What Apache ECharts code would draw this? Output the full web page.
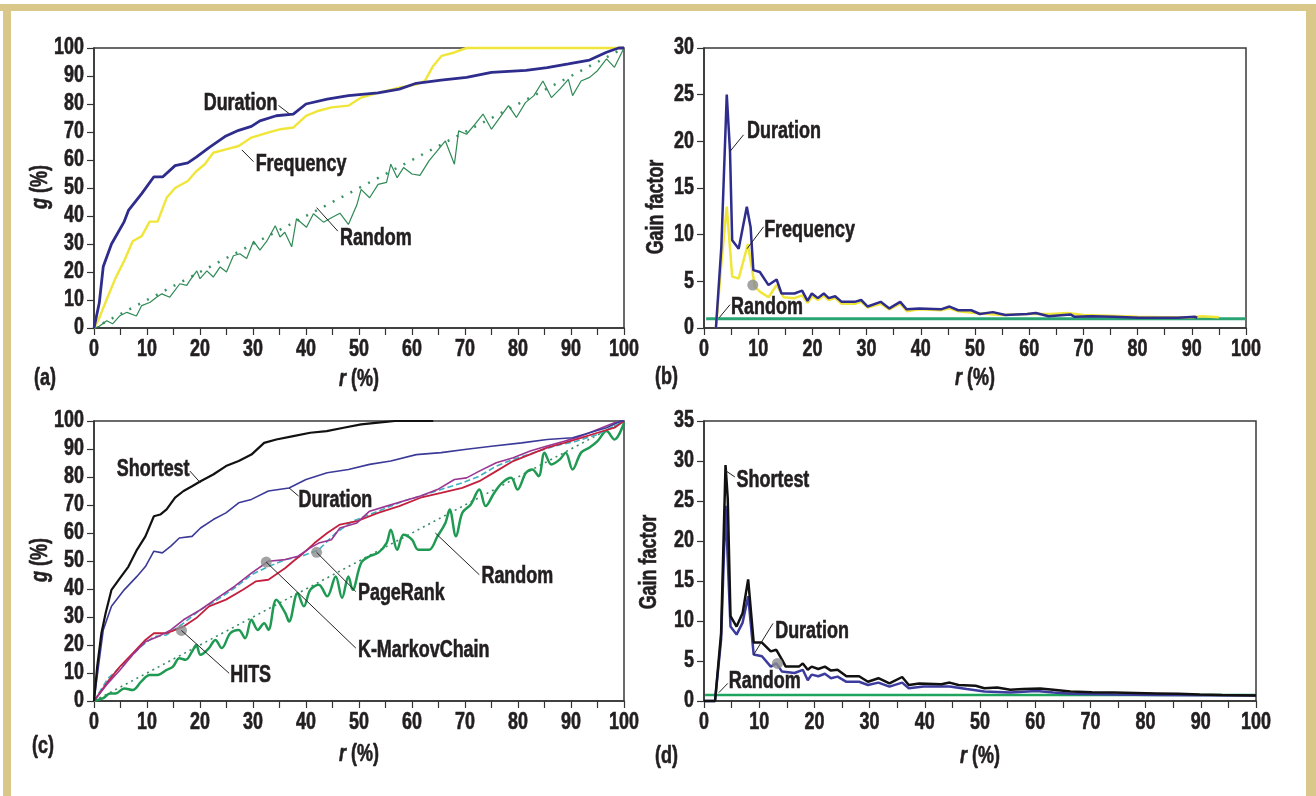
<!DOCTYPE html>
<html><head><meta charset="utf-8">
<script src="https://cdn.jsdelivr.net/npm/echarts/dist/echarts.min.js"></script>
<style>html,body{margin:0;padding:0;background:#fff}#c{width:1316px;height:796px}</style>
</head><body><div id="c"></div>
<script>
// ---------- DATA ----------
const xTicks = [0,10,20,30,40,50,60,70,80,90,100];
const gTicks = [0,10,20,30,40,50,60,70,80,90,100];
const bTicks = [0,5,10,15,20,25,30];
const dTicks = [0,5,10,15,20,25,30,35];
// (a) cumulative gain g(%) vs r(%)
const aDuration = [[0,0],[1,9],[1.75,22],[3.3,30],[5.7,38],[6.5,42],[9,48],[11.3,54],[13,54],[15.3,58],[17.7,59],[19.3,61],[21.7,64.4],[24.9,68.6],[27.3,70.6],[29.7,72],[31.3,74],[34.4,75.8],[37.6,76.4],[40,80],[44,81.7],[48,83],[53.6,84],[57.6,85.3],[60.8,87.4],[65.5,88.5],[70.3,89.5],[75,91.3],[81.5,92],[85.5,93],[89.5,94.3],[93.5,95.7],[96.7,98.5],[99,100],[100,100]];
const aFrequency = [[0,0],[1,3.6],[2.5,10.7],[4.1,18],[5.7,24],[7.3,31],[9,32.8],[10.5,38],[12,38],[13.7,46.5],[15.3,50],[17.7,52.5],[19.3,56],[20.9,58.5],[22.5,62.6],[24.9,63.8],[27.3,65],[29.7,68],[32.8,69.8],[35.2,71],[37.6,71.6],[40,75.8],[42.4,77.6],[44.8,78.8],[48,79.4],[50.4,82.3],[53.6,84],[57.6,85.8],[60.8,87],[62.4,88.2],[64,93.6],[65.6,97.2],[68,98.4],[70.3,100],[100,100]];
const aRandom = [[0,0],[1,0.6],[2.4,2.6],[3.5,1.5],[4.9,4.4],[6.2,5.6],[8,4.3],[9,8],[10.6,9.2],[11.8,11],[12.8,12.2],[14.3,11],[16.2,15.8],[17.5,15.2],[18.1,17],[19.4,20.4],[20,17.6],[21.3,20.4],[22.5,18.2],[23.8,21.8],[25,20],[26.3,25.8],[27.5,26.5],[28.8,24.8],[30.1,31],[31.3,27.8],[32.6,31],[34.2,36.5],[35.1,32.5],[36,34.2],[37.3,29],[38.2,39],[40.1,36],[41.4,40.8],[43.3,37.8],[44.8,39.4],[46.4,41],[48,37],[49.6,44],[50.4,49.5],[52,46.5],[53.6,51.3],[55.2,52],[56,58.5],[57.2,53.7],[58.4,57.3],[60,55],[61.5,54.5],[63.2,59.7],[66.3,66.8],[68,58.5],[68.8,70.4],[70.3,69.2],[71.9,72.8],[73.4,76.4],[75,71],[76.6,75.2],[78.2,79.4],[79.7,75.2],[81.4,80.5],[83,83],[84.7,88.2],[86.3,82.3],[87.9,85.3],[89.5,88.8],[90.3,83],[91.9,88.2],[93.5,89.5],[95,91.9],[96.7,96.1],[98.2,93.1],[100,100]];
const aDiagonal = [[0,0],[100,100]];
// (b) gain factor
const bDuration = [[2.2,0],[3.2,8.7],[4.2,25],[4.8,18.9],[5.2,9.4],[6.4,8.5],[7.9,13],[8.6,10.8],[9.1,6.2],[10.3,6],[11.9,4.6],[13.4,5.2],[14.3,3.7],[16.7,3.7],[18.1,4],[19.1,2.9],[19.9,3.7],[21,3.2],[22.1,3.7],[23,3.2],[24.2,3.4],[25.4,2.8],[27.8,2.8],[29,3],[30.2,2.3],[32.6,2.8],[34.2,2.1],[36.2,2.8],[37.4,2],[39.7,2.1],[43.7,2],[45.3,2.3],[46.9,1.9],[49.3,1.9],[50.9,1.5],[53.3,1.7],[55.6,1.4],[59.6,1.5],[61.2,1.6],[63.6,1.25],[67.6,1.45],[68.4,1.2],[71.5,1.25],[75.5,1.2],[80.3,1.1],[87.4,1.1],[90.6,1.2],[91,1.1]];
const bFrequency = [[2.2,0],[3.2,6.9],[4.2,13],[5.2,5.5],[6.4,5.3],[8.1,9],[9.4,4.4],[10.3,3.9],[11.9,3.3],[13.4,4.6],[14.7,3.3],[16.7,3.2],[18.1,3.5],[19.1,2.7],[20,3.4],[21,3],[22.1,3.5],[23,3],[24.2,3.2],[25.4,2.6],[27.8,2.6],[29,2.8],[30.2,2.2],[32.6,2.6],[34.2,2],[36.2,2.6],[37.4,1.8],[39.7,2],[43.7,1.9],[45.3,2.1],[46.9,1.8],[50,1.6],[55,1.4],[60,1.5],[64,1.5],[67,1.6],[70,1.4],[75,1.3],[80,1.2],[85,1.15],[90,1.15],[92,1.25],[95,1.15]];
const bRandom = [[0.4,1],[100,1]];
const bDots = [[9.0,4.6]];
// (c) cumulative gain
const cShortest = [[0,0],[0.6,12.3],[1.4,24.2],[2.2,31.4],[3.3,39.7],[4.9,43.9],[6.5,48],[8.1,54],[9.7,58.8],[11.3,66],[12.5,66.6],[13.7,68.4],[15.3,72.6],[16.9,75],[18.5,76.7],[20.1,78.5],[22.5,80.9],[24.9,83.9],[27.3,85.7],[29.7,88],[32.1,92.2],[34.4,93.4],[37.6,94.6],[40.8,95.8],[43.9,96.4],[47.1,97.6],[50.4,98.8],[53.6,99.4],[56.8,100],[64,100]];
const cDuration = [[0,0],[1,14.7],[1.75,25.4],[3.3,33.8],[5.7,39.7],[8.1,44.5],[9.7,48],[11.3,53.5],[12.9,52.9],[14.5,55.3],[16.1,58.2],[18.5,58.8],[20.1,61.8],[22.5,64.8],[24.9,67.2],[27.3,70.8],[29.7,72],[32.9,75],[36.8,76.1],[40,79.1],[44,81.5],[48,82.7],[52,84.5],[56,85.7],[60.8,88],[65.5,88.7],[70.3,89.9],[75,91],[80.7,92.2],[85.5,93.4],[90.3,94],[93.5,95.8],[96.7,97.6],[99.4,100],[100,100]];
const cHITS = [[0,0],[2.6,6.9],[4.9,12.3],[7.3,17],[9.7,21.8],[11.3,24.2],[13.7,24.2],[15.3,25.4],[16.9,26.6],[19.3,29.6],[21.7,33.8],[24.9,36.2],[28.1,39.7],[30.5,42.7],[32.9,43.3],[36.1,47.5],[37.6,49.9],[39.2,52.3],[41.6,56.4],[44,60],[46.4,63],[49.6,64.2],[53.6,67.2],[57.6,69.6],[61.6,72.6],[65.5,74.3],[69.5,76.1],[72.7,78.5],[75.9,82.1],[79.1,85.7],[82.3,88.1],[85.5,90.5],[88.7,92.2],[91.9,94],[95,95.8],[98.2,97.6],[100,100]];
const cKMarkov = [[0,0],[2.6,6.3],[4.9,11.1],[7.3,16.5],[9.7,21.2],[12.1,23],[14.5,25.4],[16.9,29],[20.1,32.6],[23.3,36.8],[26.5,40.9],[29.7,45.7],[32.9,49.9],[36.1,50.5],[38.5,51.7],[40.8,54.7],[42.4,56.4],[44.8,57.6],[46.4,61.8],[49.6,63.6],[52,67.8],[55.2,69.6],[58.4,71.4],[61.6,73.2],[64.8,75.5],[68,79.1],[70.3,79.7],[72.7,82.1],[75.9,85.1],[79.1,86.9],[82.3,89.3],[85.5,91.1],[88.7,92.8],[91.9,94.6],[95,97],[98.2,99.4],[100,100]];
const cPageRank = [[0,0],[2.6,8],[5.7,13.5],[8.9,19.5],[11.3,23],[13.7,23.6],[16.9,27.8],[20.1,32.6],[23.3,36.2],[26.5,40.3],[29.7,45.1],[32.9,48],[36.1,50.5],[39.2,51.7],[42.4,54],[45.6,60],[48.8,64.2],[52,66.6],[55.2,69],[58.4,71.4],[61.6,73.2],[66.4,76.1],[69.5,77.9],[72.7,80.3],[75.9,83.9],[79.1,86.3],[83,88.7],[87,91.1],[91,92.8],[95,95.2],[98.2,98.2],[100,100]];
const cRandom = [[0,0],[1.75,1],[3,2.7],[4.1,2.7],[5.7,4.5],[7.3,3.9],[8.9,6.9],[10.5,9.3],[12,9.3],[13.7,11.1],[14.9,12.3],[16.1,15.3],[17.3,14.7],[18.5,17.7],[19.3,20],[20.1,16.5],[21.7,18.9],[22.9,21.8],[24.1,18.9],[25.7,24.2],[27.3,25.4],[28.5,22.4],[29.7,29],[30.9,25.4],[32.1,27.8],[32.9,25.4],[34.4,36.2],[36.1,31.4],[36.8,28.4],[38.4,38.5],[39.6,33.8],[40.8,39.7],[42.4,41.5],[44,37.4],[45.6,44.5],[46.8,36.8],[48,44.5],[48.8,39.7],[50.4,49.3],[52,51.7],[53.6,52.9],[55.2,56.4],[56,61.2],[57.2,54],[58.4,59.4],[60,57.6],[61.2,54],[63.2,54],[64.8,58.8],[66.3,63.6],[67.1,68.4],[68.3,58.8],[69.5,67.2],[71.1,70.2],[72.7,75.5],[73.9,69.6],[75.5,74.3],[77,77.9],[78.7,79.7],[79.9,75.5],[81.5,81.5],[82.7,82.7],[83.9,80.3],[85,88.7],[86.3,84.5],[87.9,86.3],[89,88.7],[90.3,82.7],[91.9,88.7],[93.5,90.5],[95,92.8],[96.7,96.4],[98.2,93.4],[100,99.4]];
const cDiagonal = [[0,0],[100,100]];
const cDots = [[16.5,25.2],[32.5,49.6],[42,53.1]];
// (d) gain factor
const dShortest = [[0,0],[2,0],[3.1,8.5],[3.9,29.5],[4.3,25.3],[4.8,10.6],[5.9,9.3],[7,11],[8,15.2],[9,7.3],[10.5,7.3],[12.1,6.2],[13.1,6.4],[14.1,5.2],[14.8,4.3],[17.2,4.3],[17.9,4.7],[18.8,3.9],[19.5,4.3],[20.7,4],[21.9,4.3],[23,3.8],[24.2,3.9],[25.8,3.1],[28.1,3.1],[29.7,2.4],[31.6,2.85],[33.6,2.2],[35.9,3],[37.1,2],[39,2.2],[43,2.1],[44.5,2.3],[46.1,2],[49.2,1.9],[50.8,1.6],[53.1,1.7],[55.5,1.4],[57.8,1.5],[60.9,1.55],[63.3,1.4],[66.4,1.2],[70.3,1.1],[74.2,1.05],[82,0.95],[85.9,0.9],[89.8,0.8],[93.8,0.75],[100,0.7]];
const dDuration = [[0,0],[2,0],[3.1,7.7],[3.9,24.4],[4.8,9.3],[5.9,8.3],[7,9.8],[8,13.1],[9,5.8],[10.5,5.6],[12.1,4.3],[13.1,4.7],[14.1,3.7],[16.4,3.5],[17.9,3.9],[18.8,2.6],[19.5,3.3],[20.7,3.1],[21.9,3.4],[23,2.85],[24.2,3.05],[25.8,2.4],[28.1,2.4],[29.7,2],[31.6,2.3],[33.6,1.8],[35.9,2.3],[37.1,1.6],[39.8,1.8],[44.5,1.8],[47.6,1.5],[50.8,1.2],[55.5,1.05],[60.2,1.25],[63.3,1.05],[66.4,0.9],[74.2,0.8],[82,0.75],[100,0.7]];
const dRandom = [[0.2,0.75],[100,0.75]];
const dDots = [[13.3,4.7]];

// annotations: [gridIndex, text, textLeft(data), leaderFrom(data), leaderTo(data)]
const notes = [
  [0,'Duration',[20.7,80],[34.8,79.5],[36.8,76.6]],
  [0,'Frequency',[30.5,58.5],[27.9,63.6],[30.1,59.4]],
  [0,'Random',[46.4,32],[42,43],[46,34.6]],
  [1,'Duration',[7.95,21.05],[4.77,18.9],[7.3,20.7]],
  [1,'Frequency',[11.1,10.4],[7.95,8.5],[11,10.85]],
  [1,'Random',[5.0,2.15],[2.8,1.1],[4.8,2.5]],
  [2,'Shortest',[4.3,82.5],[18.1,82.1],[20.1,77.9]],
  [2,'Duration',[38.6,71.7],[36.8,76.1],[38.6,73.2]],
  [2,'HITS',[25.7,8.9],[16.5,25.2],[25.5,9.9]],
  [2,'K-MarkovChain',[49.8,18],[32.5,49.6],[49.4,18.9]],
  [2,'PageRank',[49.8,38.3],[42,53.1],[49.4,39.1]],
  [2,'Random',[73.1,44.3],[64.4,60],[72.7,45.1]],
  [3,'Shortest',[5.9,27.6],[3.9,28.8],[5.6,28]],
  [3,'Duration',[12.9,8.7],[9,5.8],[12.5,9.7]],
  [3,'Random',[4.5,2.4],[2.7,1.05],[4.3,2.2]]
];

// ---------- CHART ----------
const FONT = "'Liberation Sans',Arial,sans-serif";
const SX = 0.78;               // horizontal condensing (narrow face)
const FS = 23;
const INK = '#231f20';
const BEIGE = '#dac88a';
const chart = echarts.init(document.getElementById('c'), null, {renderer:'canvas'});

const grids = [
  {left:94, top:48, width:530, height:280},
  {left:704, top:48, width:542, height:280},
  {left:94, top:421, width:530, height:280},
  {left:704, top:421, width:552, height:280}
];
const yTickSets = [gTicks,bTicks,gTicks,dTicks];

function xAxis(i){
  return {gridIndex:i, type:'value', min:0, max:100, interval:5,
    axisLine:{show:true, onZero:false, lineStyle:{color:'#333', width:1.5}},
    axisTick:{show:true, length:7, lineStyle:{color:'#333', width:1.2}},
    splitLine:{show:false}, axisLabel:{show:false}};
}
function yAxis(i){
  const t=yTickSets[i];
  return {gridIndex:i, type:'value', min:0, max:t[t.length-1], interval:t[1]-t[0],
    axisLine:{show:true, onZero:false, lineStyle:{color:'#333', width:1.5}},
    axisTick:{show:true, length:7, lineStyle:{color:'#333', width:1.2}},
    splitLine:{show:false}, axisLabel:{show:false}};
}
function line(gi, data, color, width, extra){
  return Object.assign({type:'line', xAxisIndex:gi, yAxisIndex:gi, data:data,
    showSymbol:false, symbol:'none', clip:false, animation:false,
    lineStyle:{color:color, width:width}, itemStyle:{color:color}}, extra||{});
}
function dots(gi, data){
  return {type:'scatter', xAxisIndex:gi, yAxisIndex:gi, data:data, symbolSize:11,
    itemStyle:{color:'#8a8c8e'}, animation:false, z:5};
}

const series = [
  line(0, aDiagonal, '#3b9466', 2.5, {lineStyle:{color:'#3b9466', width:2.5, type:[2,8]}}),
  line(0, aRandom, '#2f8a55', 1.2),
  line(0, aFrequency, '#f0e63a', 2.4),
  line(0, aDuration, '#2e2c8c', 2.8),
  line(1, bRandom, '#2ba474', 3),
  line(1, bFrequency, '#f0e63a', 2.5),
  line(1, bDuration, '#2e2c8c', 2.5),
  dots(1, bDots),
  line(2, cDiagonal, '#3b8a66', 1.6, {lineStyle:{color:'#3b8a66', width:1.6, type:[2,4]}}),
  line(2, cRandom, '#1f9a52', 2.5, {smooth:0.35}),
  line(2, cPageRank, '#3cb2c4', 1.6, {lineStyle:{color:'#3cb2c4', width:1.6, type:[6,3]}}),
  line(2, cHITS, '#c4203e', 1.8),
  line(2, cKMarkov, '#9b3592', 1.6),
  line(2, cDuration, '#3b3a98', 1.6),
  line(2, cShortest, '#111111', 2.2),
  dots(2, cDots),
  line(3, dRandom, '#1fa45e', 2.5),
  line(3, dDuration, '#3c3c9e', 2.5),
  line(3, dShortest, '#111111', 2.5),
  dots(3, dDots)
];

chart.setOption({
  animation:false,
  backgroundColor:'#ffffff',
  grid: grids.map(g=>Object.assign({show:true, borderColor:'#3a3a3a', borderWidth:1.5, backgroundColor:'#fff', containLabel:false}, g)),
  xAxis:[0,1,2,3].map(xAxis),
  yAxis:[0,1,2,3].map(yAxis),
  series:series
});

// ---------- TEXT / ANNOTATIONS / FRAME ----------
const g = [];
g.push({type:'rect', shape:{x:0,y:4,width:1316,height:7}, style:{fill:BEIGE}, z:10});
g.push({type:'rect', shape:{x:3,y:4,width:8,height:792}, style:{fill:BEIGE}, z:10});
g.push({type:'rect', shape:{x:1306,y:4,width:10,height:792}, style:{fill:BEIGE}, z:10});

function txt(x,y,text,opt){
  opt=opt||{};
  const fs=opt.fs||FS;
  const el={type:'text', x:x, y:y, z:20, scaleX:SX, scaleY:1,
    style:{text:text, fill:INK, stroke:INK, lineWidth:0.6, fontFamily:FONT, fontWeight:'bold', fontSize:fs,
      align:opt.align||'center', verticalAlign:'middle',
      rich:{i:{fontStyle:'italic', fontFamily:FONT, fontWeight:'bold', fontSize:fs, fill:INK, stroke:INK, lineWidth:0.6}}}};
  if(opt.rot!==undefined) el.rotation=opt.rot;
  return el;
}

// tick labels
for(let gi=0; gi<4; gi++){
  xTicks.forEach(v=>{
    const p=chart.convertToPixel({gridIndex:gi},[v,0]);
    g.push(txt(p[0], p[1]+22, String(v)));
  });
  yTickSets[gi].forEach(v=>{
    const p=chart.convertToPixel({gridIndex:gi},[0,v]);
    g.push(txt(p[0]-10, p[1], String(v), {align:'right'}));
  });
}

// axis titles
g.push(txt(359,380,'{i|r} (%)'));
g.push(txt(975,379,'{i|r} (%)'));
g.push(txt(359,755,'{i|r} (%)'));
g.push(txt(980,757,'{i|r} (%)'));
g.push(txt(41,187,'{i|g} (%)',{rot:Math.PI/2}));
g.push(txt(41,560,'{i|g} (%)',{rot:Math.PI/2}));
g.push(txt(657,207,'Gain factor',{rot:Math.PI/2}));
g.push(txt(650,562,'Gain factor',{rot:Math.PI/2}));
// panel letters
g.push(txt(34,379,'(a)',{align:'left'}));
g.push(txt(655,378,'(b)',{align:'left'}));
g.push(txt(32,747,'(c)',{align:'left'}));
g.push(txt(655,757,'(d)',{align:'left'}));

notes.forEach(n=>{
  const gi=n[0];
  const p=chart.convertToPixel({gridIndex:gi}, n[2]);
  const a=chart.convertToPixel({gridIndex:gi}, n[3]);
  const b=chart.convertToPixel({gridIndex:gi}, n[4]);
  g.push({type:'line', z:19, shape:{x1:a[0],y1:a[1],x2:b[0],y2:b[1]}, style:{stroke:'#222', lineWidth:1}});
  g.push(txt(p[0],p[1],n[1],{align:'left'}));
});

chart.setOption({graphic:g});
</script></body></html>
